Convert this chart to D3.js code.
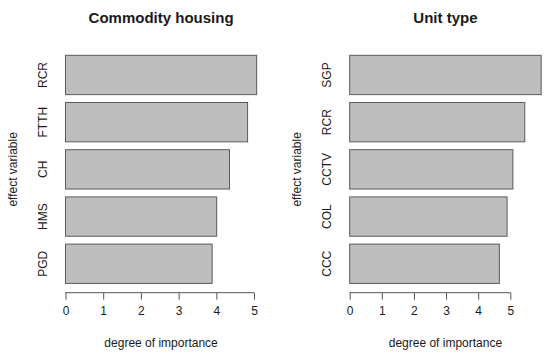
<!DOCTYPE html>
<html><head><meta charset="utf-8">
<script src="https://cdn.jsdelivr.net/npm/d3@7"></script>
<style>body{margin:0;background:#fff}svg{display:block}text{font-family:"Liberation Sans",Arial,sans-serif;fill:#1a1a1a}</style>
</head><body><div id="chart"></div>
<script>
const titles = ["Commodity housing", "Unit type"];
const categoriesA = ["RCR", "FTTH", "CH", "HMS", "PGD"];
const valuesA = [5.07, 4.83, 4.35, 4.01, 3.89];
const categoriesB = ["SGP", "RCR", "CCTV", "COL", "CCC"];
const valuesB = [5.96, 5.45, 5.08, 4.90, 4.66];
const xTicks = [0, 1, 2, 3, 4, 5];
const xTitle = "degree of importance";
const yTitle = "effect variable";

const W = 550, H = 358;
const svg = d3.select("#chart").append("svg").attr("width", W).attr("height", H);

const panels = [
  {title: titles[0], cats: categoriesA, vals: valuesA, x0: 65.5, x5: 254, ylab: 42.7, ytitle: 13.3},
  {title: titles[1], cats: categoriesB, vals: valuesB, x0: 349.7, x5: 510.3, ylab: 326.7, ytitle: 297.3}
];

panels.forEach(p => {
  const unit = (p.x5 - p.x0) / 5;
  const maxV = d3.max(p.vals);
  const lo = -0.04 * maxV, hi = maxV * 1.04;
  const x = d3.scaleLinear().domain([lo, hi]).range([p.x0 + lo * unit, p.x0 + hi * unit]);
  const n = p.cats.length;
  const yTop = 55.3, step = 47.2;
  const bh = step / 1.2;
  const y2 = d3.scaleBand().domain(p.cats).range([yTop, yTop + step * (n - 1) + bh]).paddingInner(0.2 / 1.2).paddingOuter(0);
  const g = svg.append("g");
  g.selectAll("rect").data(p.cats).join("rect")
    .attr("x", x(0))
    .attr("y", d => y2(d))
    .attr("width", (d, i) => x(p.vals[i]) - x(0))
    .attr("height", y2.bandwidth())
    .attr("fill", "#bebebe")
    .attr("stroke", "#5a5a5a")
    .attr("stroke-width", 1);

  g.selectAll("text.cat").data(p.cats).join("text").attr("class", "cat")
    .attr("transform", d => `translate(${p.ylab},${y2(d) + y2.bandwidth() / 2}) rotate(-90)`)
    .attr("text-anchor", "middle").attr("dominant-baseline", "central")
    .attr("font-size", 12).text(d => d);

  const axis = d3.axisBottom(x).tickValues(xTicks).tickSize(7).tickPadding(7).tickFormat(d3.format("d"));
  const ax = g.append("g").attr("transform", `translate(0,292.7)`).call(axis);
  ax.select(".domain").attr("stroke", "#555").attr("d", `M${x(0)},0.5V0H${x(5)}V0.5`);
  ax.selectAll(".tick line").attr("stroke", "#555");
  ax.selectAll(".tick text").attr("font-size", 12).attr("fill", "#1a1a1a").attr("font-family", '"Liberation Sans",Arial,sans-serif');

  const cx = (x.range()[0] + x.range()[1]) / 2;
  g.append("text").attr("x", cx).attr("y", 343).attr("text-anchor", "middle")
    .attr("dominant-baseline", "central").attr("font-size", 12).text(xTitle);
  g.append("text").attr("x", cx).attr("y", 17).attr("text-anchor", "middle")
    .attr("dominant-baseline", "central").attr("font-size", 15).attr("font-weight", "bold").text(p.title);
  g.append("text").attr("transform", `translate(${p.ytitle},${yTop + (step * (n - 1) + bh) / 2}) rotate(-90)`)
    .attr("text-anchor", "middle").attr("dominant-baseline", "central").attr("font-size", 12).text(yTitle);
});
</script></body></html>
